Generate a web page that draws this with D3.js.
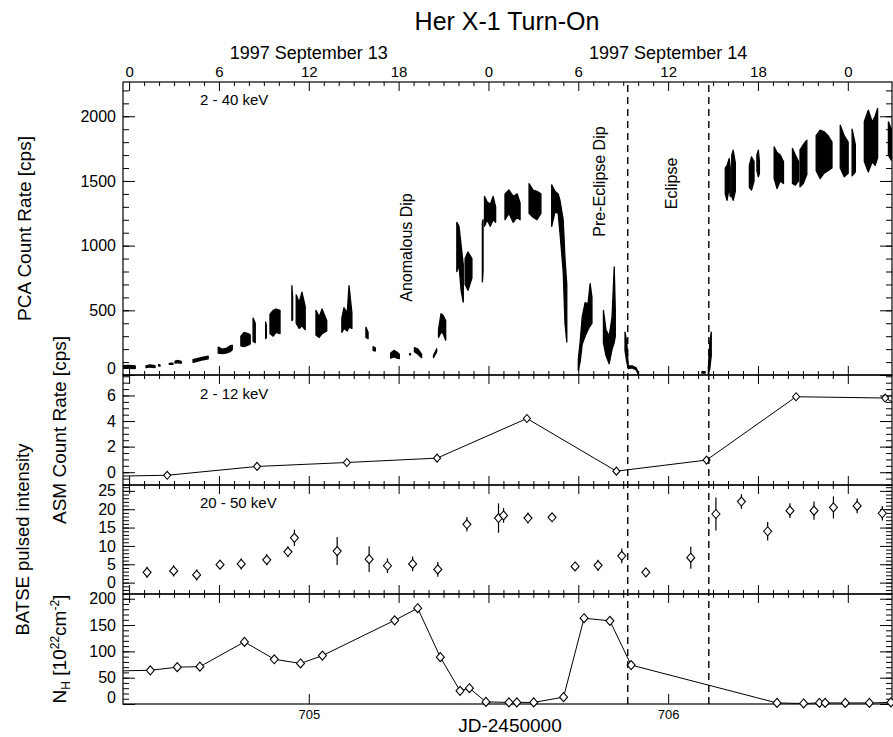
<!DOCTYPE html>
<html><head><meta charset="utf-8">
<script src="https://cdn.jsdelivr.net/npm/d3@7"></script>
<style>
body{margin:0;background:#fff}
text{font-family:"Liberation Sans",Arial,Helvetica,sans-serif;fill:#000}
</style>
</head><body>
<svg id="c" width="893" height="737"></svg>
<script>
// ---------------- DATA ----------------
// PCA 2-40 keV light curve: per sample, segment id, time (JD-2450000), low / high count rate [cps]
const pcaSeg  = [0,0,0, 1,1,1, 2,2, 3,3, 4,4,4, 5,5,5,5, 6,6,6,6,6, 7,7,7,7, 8,8, 9,9, 10,10,10,10, 11,11, 12,12,12,12, 13,13,13,13, 14,14,14,14,14, 15,15, 16,16, 17,17,17,17, 18,18, 19,19,19, 20,20, 21,21,21,21, 22,22,22,22, 23,23,23, 24,24, 25,25,25,25,25, 26,26,26,26,26, 27,27,27,27, 28,28,28,28,28,28,28, 29,29,29,29,29,29,29, 30,30,30,30,30,30, 31,31,31,31,31,31, 32,32, 33,33,33, 34,34,34,34, 35,35,35, 36,36,36, 37,37,37, 38,38,38,38, 39,39,39, 40,40,40, 41,41,41,41,41, 42,42,42, 43,43, 44,44,44,44,44, 45,45,45];
const pcaTime = [704.478,704.500,704.517, 704.547,704.558,704.572, 704.582,704.586, 704.612,704.622, 704.628,704.636,704.645, 704.678,704.692,704.706,704.720, 704.748,704.759,704.770,704.781,704.787, 704.811,704.820,704.831,704.837, 704.845,704.851, 704.880,704.882, 704.892,704.901,704.909,704.920, 704.953,704.955, 704.965,704.973,704.981,704.990, 705.020,705.029,705.037,705.050, 705.092,705.098,705.107,705.112,705.120, 705.159,705.165, 705.179,705.185, 705.228,705.237,705.246,705.252, 705.281,705.283, 705.294,705.304,705.314, 705.347,705.356, 705.361,705.368,705.374,705.381, 705.412,705.418,705.424,705.430, 705.435,705.443,705.454, 705.483,705.485, 705.489,705.496,705.505,705.513,705.520, 705.546,705.557,705.569,705.580,705.588, 705.613,705.624,705.635,705.646, 705.676,705.685,705.694,705.699,705.708,705.713,705.718, 705.750,705.755,705.761,705.769,705.777,705.783,705.788, 705.820,705.827,705.836,705.844,705.850,705.853, 705.880,705.885,705.889,705.900,705.911,705.917, 706.094,706.103, 706.112,706.116,706.120, 706.159,706.164,706.170,706.173, 706.177,706.181,706.187, 706.226,706.232,706.239, 706.247,706.251,706.254, 706.295,706.303,706.312,706.321, 706.346,706.354,706.363, 706.367,706.376,706.386, 706.412,706.423,706.434,706.445,706.456, 706.479,706.490,706.501, 706.512,706.521, 706.546,706.557,706.568,706.576,706.583, 706.613,706.621,706.630];
const pcaLow  = [50,52,50, 57,62,58, 70,68, 82,82, 92,95,90, 98,108,118,125, 170,165,170,180,195, 225,220,230,240, 260,250, 280,290, 320,300,330,320, 420,430, 400,360,380,350, 310,290,320,340, 330,360,340,370,360, 290,280, 190,185, 130,140,130,126, 155,155, 180,160,134, 134,180, 290,330,320,268, 800,850,650,564, 700,655,750, 720,800, 1150,1200,1150,1200,1180, 1200,1250,1180,1220,1200, 1250,1220,1200,1250, 1150,1260,1250,1100,800,400,255, 36,100,240,300,350,380,400, 250,150,87,200,250,300, 190,100,50,55,40,5, 15,15, 10,50,150, 1400,1351,1450,1380, 1380,1351,1420, 1450,1429,1500, 1580,1532,1560, 1520,1442,1500,1480, 1480,1467,1500, 1454,1480,1550, 1580,1519,1560,1580,1600, 1600,1532,1560, 1540,1570, 1650,1570,1648,1620,1680, 1700,1661,1700];
const pcaHigh = [72,75,70, 70,78,72, 80,78, 90,92, 108,112,105, 118,128,138,145, 215,200,205,225,230, 300,330,320,310, 440,400, 410,380, 470,500,510,500, 690,600, 620,560,640,530, 500,450,510,420, 440,520,480,690,480, 370,330, 220,210, 170,190,175,160, 165,165, 211,200,160, 150,203, 350,474,460,420, 1180,1150,1000,850, 900,951,900, 1180,1200, 1380,1340,1320,1380,1300, 1400,1430,1380,1400,1330, 1480,1430,1420,1400, 1470,1420,1400,1350,1200,900,700, 120,250,450,560,550,707,600, 500,350,300,450,835,500, 332,250,70,70,55,20, 25,25, 60,250,332, 1600,1620,1674,1600, 1700,1738,1640, 1620,1686,1650, 1700,1738,1650, 1764,1720,1700,1650, 1751,1700,1650, 1740,1780,1815, 1850,1893,1880,1850,1800, 1931,1850,1800, 1900,1780, 1960,2047,1957,2000,2060, 1957,1900,1920];

// ASM 2-12 keV (first and last entries lie outside the plotted range)
const asmTime  = [704.356, 704.606, 704.856, 705.106, 705.357, 705.607, 705.856, 706.107, 706.356, 706.604, 706.854];
const asmValue = [-0.36, -0.24, 0.45, 0.76, 1.10, 4.20, 0.08, 0.95, 5.90, 5.80, 2.00];

// BATSE 20-50 keV pulsed intensity
const batTime  = [704.550,704.624,704.688,704.753,704.812,704.883,704.942,704.960,705.079,705.168,705.219,705.289,705.359,705.440,705.528,705.542,705.610,705.677,705.741,705.805,705.871,705.938,706.063,706.133,706.204,706.277,706.339,706.406,706.460,706.526,706.596];
const batValue = [2.8,3.2,2.1,4.9,5.1,6.2,8.4,12.2,8.6,6.4,4.6,5.1,3.6,15.9,17.6,18.3,17.6,17.8,4.4,4.7,7.3,2.8,6.8,18.7,22.1,14.0,19.6,19.6,20.5,20.9,18.9];
const batError = [1.5,1.5,1.5,0.8,1.5,1.5,1.5,2.2,3.8,3.5,2.0,2.0,2.0,2.0,4.0,2.0,1.5,1.0,1.2,1.5,2.0,0.7,3.0,4.5,2.0,2.5,2.0,2.5,3.0,2.0,2.0];

// N_H column density [1e22 cm^-2] (first entry lies outside the plotted range)
const nhTime  = [704.400,704.559,704.634,704.697,704.821,704.904,704.977,705.038,705.239,705.303,705.366,705.421,705.447,705.493,705.557,705.579,705.626,705.709,705.766,705.838,705.897,706.303,706.377,706.421,706.437,706.493,706.560,706.620];
const nhValue = [62,64,70,71,118,85,77,92,159,182,89,25,30,4,3,3,3,13,163,158,74,2,1,2,2,2,2,3];

// eclipse boundaries (dashed lines)
const eclipseTime = [705.8876, 706.1132];

// tick labels
const pcaTicks = [0, 500, 1000, 1500, 2000];
const asmTicks = [0, 2, 4, 6];
const batTicks = [0, 5, 10, 15, 20, 25];
const nhTicks  = [0, 50, 100, 150, 200];
const hourTickTime = [704.50, 704.75, 705.00, 705.25, 705.50, 705.75, 706.00, 706.25, 706.50];
const hourLabels   = ["0","6","12","18","0","6","12","18","0"];
const jdTicks = [705, 706];
const dateLabels = ["1997 September 13", "1997 September 14"];
const dateTime   = [705.0, 706.0];

// ---------------- CHART ----------------
const svg = d3.select("#c");
const X0 = 123, X1 = 892;
const x = d3.scaleLinear().domain([704.483, 706.623]).range([X0, X1]);

const panels = [
  {id:"pca", top:82,  bottom:375, domain:[0,2265],    ticks:pcaTicks, minor:100},
  {id:"asm", top:375, bottom:485, domain:[-1,7.6],    ticks:asmTicks, minor:0.5},
  {id:"bat", top:485, bottom:594, domain:[-3.1,26.6], ticks:batTicks, minor:1},
  {id:"nh",  top:594, bottom:704, domain:[0,209],     ticks:nhTicks,  minor:10}
];
panels.forEach(p => { p.y = d3.scaleLinear().domain(p.domain).range([p.bottom, p.top]); });

const defs = svg.append("defs");
panels.forEach(p => {
  defs.append("clipPath").attr("id","clip-"+p.id).append("rect")
    .attr("x",X0).attr("y",p.top).attr("width",X1-X0).attr("height",p.bottom-p.top);
});

// hour ticks (minor every hour, major every 6 hours)
const hourMinor = d3.range(0, 60).map(h => 704.5 + (h - 12) / 24).filter(t => t >= 704.483 && t <= 706.623);

function cleanAxis(g){ g.select(".domain").remove(); g.selectAll("line").attr("stroke","#000").attr("stroke-width",1); }

panels.forEach((p, pi) => {
  const minors = d3.range(Math.ceil(p.domain[0]/p.minor)*p.minor, p.domain[1], p.minor).map(v=>+v.toFixed(6));
  // left axis
  const gl = svg.append("g").attr("transform",`translate(${X0},0)`);
  gl.call(d3.axisLeft(p.y).tickValues(minors).tickSize(-6).tickFormat("")).call(cleanAxis);
  const glm = svg.append("g").attr("transform",`translate(${X0},0)`);
  glm.call(d3.axisLeft(p.y).tickValues(p.ticks).tickSize(-12).tickPadding(7).tickFormat(d => String(d))).call(cleanAxis);
  glm.selectAll("text").attr("font-size",16).attr("font-family",'"Liberation Sans",Arial,sans-serif')
     .attr("transform", d => (p.bottom - p.y(d) < 7) ? `translate(0,${-(7-(p.bottom-p.y(d)))})` : null);
  // right axis
  const gr = svg.append("g").attr("transform",`translate(${X1},0)`);
  gr.call(d3.axisRight(p.y).tickValues(minors).tickSize(-6).tickFormat("")).call(cleanAxis);
  const grm = svg.append("g").attr("transform",`translate(${X1},0)`);
  grm.call(d3.axisRight(p.y).tickValues(p.ticks).tickSize(-12).tickFormat("")).call(cleanAxis);

  // top axis ticks (inward)
  const isMajor = t => Math.abs((t - 704.5) * 4 - Math.round((t - 704.5) * 4)) < 1e-6;
  const gt = svg.append("g").attr("transform",`translate(0,${p.top})`);
  gt.call(d3.axisTop(x).tickValues(hourMinor.filter(t=>!isMajor(t))).tickSize(-4).tickFormat("")).call(cleanAxis);
  const gtm = svg.append("g").attr("transform",`translate(0,${p.top})`);
  if (pi === 0) {
    gtm.call(d3.axisTop(x).tickValues(hourTickTime).tickSize(-9).tickPadding(5).tickFormat((d,i)=>hourLabels[i])).call(cleanAxis);
    gtm.selectAll("text").attr("font-size",15).attr("font-family",'"Liberation Sans",Arial,sans-serif');
  } else {
    gtm.call(d3.axisTop(x).tickValues(hourTickTime).tickSize(-9).tickFormat("")).call(cleanAxis);
  }
  // bottom axis ticks (inward)
  const gb = svg.append("g").attr("transform",`translate(0,${p.bottom})`);
  if (pi < 3) {
    gb.call(d3.axisBottom(x).tickValues(hourMinor.filter(t=>!isMajor(t))).tickSize(-4).tickFormat("")).call(cleanAxis);
    const gbm = svg.append("g").attr("transform",`translate(0,${p.bottom})`);
    gbm.call(d3.axisBottom(x).tickValues(hourTickTime).tickSize(-9).tickFormat("")).call(cleanAxis);
  } else {
    gb.call(d3.axisBottom(x).tickValues(jdTicks).tickSize(-10).tickPadding(6).tickFormat(d3.format("d"))).call(cleanAxis);
    gb.selectAll("text").attr("font-size",13).attr("font-family",'"Liberation Sans",Arial,sans-serif');
  }
  // frame
  svg.append("rect").attr("x",X0).attr("y",p.top).attr("width",X1-X0).attr("height",p.bottom-p.top)
    .attr("fill","none").attr("stroke","#000").attr("stroke-width",1.2);
});

const [pP, pA, pB, pN] = panels;

// PCA light curve
const pcaG = svg.append("g").attr("clip-path","url(#clip-pca)");
const segs = d3.groups(d3.range(pcaTime.length), i => pcaSeg[i]);
const pcaArea = d3.area().x(i => x(pcaTime[i])).y0(i => pP.y(pcaLow[i])).y1(i => pP.y(pcaHigh[i]));
segs.forEach(([k, idx]) => {
  pcaG.append("path").attr("d", pcaArea(idx)).attr("fill","#000").attr("stroke","#000")
    .attr("stroke-width",1.3).attr("stroke-linejoin","round");
});

// diamond marker
function diamond(cx, cy, w, h){ return `M${cx},${cy-h}L${cx+w},${cy}L${cx},${cy+h}L${cx-w},${cy}Z`; }
const inRange = t => t >= 704.483 && t <= 706.623;

// ASM
const asmG = svg.append("g").attr("clip-path","url(#clip-asm)");
asmG.append("path").attr("d", d3.line().x(i=>x(asmTime[i])).y(i=>pA.y(asmValue[i]))(d3.range(asmTime.length)))
  .attr("fill","none").attr("stroke","#000").attr("stroke-width",1);
asmG.selectAll("path.m").data(d3.range(asmTime.length).filter(i=>inRange(asmTime[i]))).join("path").attr("class","m")
  .attr("d", i => diamond(x(asmTime[i]), pA.y(asmValue[i]), 3.5, 4))
  .attr("fill","#fff").attr("stroke","#000").attr("stroke-width",1.1);

// BATSE
const batG = svg.append("g").attr("clip-path","url(#clip-bat)");
batG.selectAll("line.e").data(d3.range(batTime.length)).join("line").attr("class","e")
  .attr("x1", i=>x(batTime[i])).attr("x2", i=>x(batTime[i]))
  .attr("y1", i=>pB.y(batValue[i]-batError[i])).attr("y2", i=>pB.y(batValue[i]+batError[i]))
  .attr("stroke","#000").attr("stroke-width",1.2);
batG.selectAll("path.m").data(d3.range(batTime.length)).join("path").attr("class","m")
  .attr("d", i => diamond(x(batTime[i]), pB.y(batValue[i]), 4, 4.5))
  .attr("fill","#fff").attr("stroke","#000").attr("stroke-width",1.1);

// NH
const nhG = svg.append("g").attr("clip-path","url(#clip-nh)");
nhG.append("path").attr("d", d3.line().x(i=>x(nhTime[i])).y(i=>pN.y(nhValue[i]))(d3.range(nhTime.length)))
  .attr("fill","none").attr("stroke","#000").attr("stroke-width",1);
const nhM = svg.append("g");
nhM.selectAll("path.m").data(d3.range(nhTime.length).filter(i=>inRange(nhTime[i]))).join("path").attr("class","m")
  .attr("d", i => diamond(x(nhTime[i]), pN.y(nhValue[i]), 4, 4.5))
  .attr("fill","#fff").attr("stroke","#000").attr("stroke-width",1.1);

// eclipse dashed lines
svg.selectAll("line.ecl").data(eclipseTime).join("line").attr("class","ecl")
  .attr("x1", d=>x(d)).attr("x2", d=>x(d)).attr("y1", pP.top+3).attr("y2", pN.bottom)
  .attr("stroke","#000").attr("stroke-width",1.4).attr("stroke-dasharray","7,5");

// ---------------- TEXT ----------------
svg.append("text").attr("x",507).attr("y",30).attr("text-anchor","middle").attr("font-size",25).text("Her X-1 Turn-On");
svg.selectAll("text.date").data(dateLabels).join("text").attr("class","date")
  .attr("x",(d,i)=>x(dateTime[i])).attr("y",59).attr("text-anchor","middle").attr("font-size",18).text(d=>d);

svg.append("text").attr("x",200).attr("y",104.5).attr("font-size",15).text("2 - 40 keV");
svg.append("text").attr("x",200).attr("y",398.5).attr("font-size",15).text("2 - 12 keV");
svg.append("text").attr("x",200).attr("y",507.5).attr("font-size",15).text("20 - 50 keV");

function vtext(cx, cy, size, str){
  return svg.append("text").attr("transform",`translate(${cx},${cy}) rotate(-90)`)
    .attr("text-anchor","middle").attr("dy","0.36em").attr("font-size",size).text(str);
}
vtext(406, 247.5, 16, "Anomalous Dip");
vtext(599.5, 181.5, 16, "Pre-Eclipse Dip");
vtext(671, 183.5, 16, "Eclipse");

vtext(24, (pP.top+pP.bottom)/2, 19, "PCA Count Rate [cps]");
vtext(59, (pA.top+pA.bottom)/2, 19, "ASM Count Rate [cps]");
vtext(22, (pB.top+pB.bottom)/2, 18.5, "BATSE pulsed intensity");
// N_H label with sub/superscripts
const nh = svg.append("text").attr("transform",`translate(66,${(pN.top+pN.bottom)/2}) rotate(-90)`)
  .attr("text-anchor","middle").attr("font-size",19);
nh.append("tspan").text("N");
nh.append("tspan").attr("dy",4).attr("font-size",12).text("H");
nh.append("tspan").attr("dy",-4).text(" [10");
nh.append("tspan").attr("dy",-7).attr("font-size",12).text("22");
nh.append("tspan").attr("dy",7).text("cm");
nh.append("tspan").attr("dy",-7).attr("font-size",12).text("-2");
nh.append("tspan").attr("dy",7).text("]");

svg.append("text").attr("x",510).attr("y",732).attr("text-anchor","middle").attr("font-size",19).text("JD-2450000");
</script>
</body></html>
